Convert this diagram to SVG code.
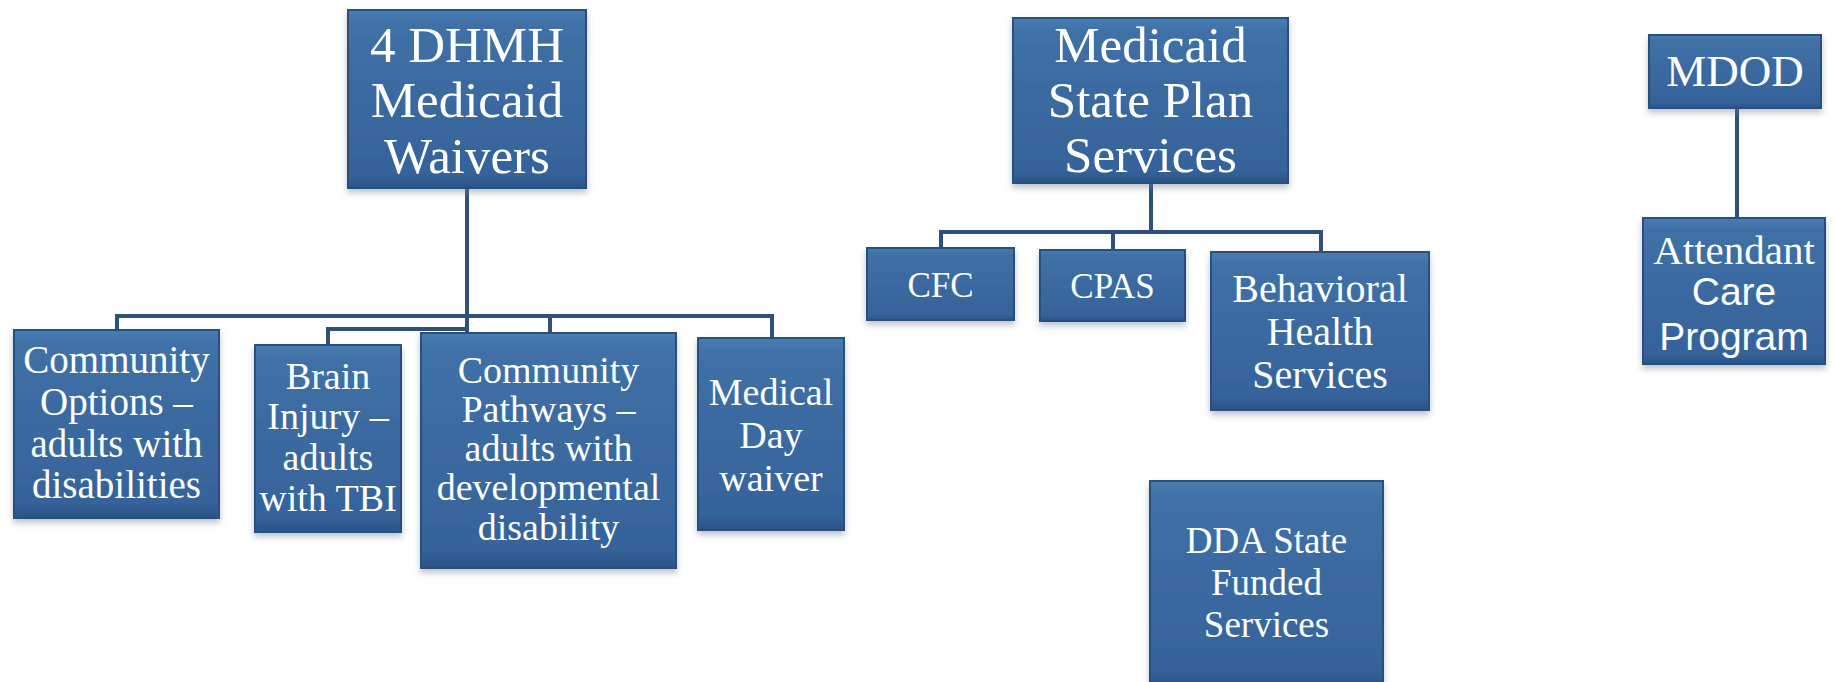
<svg xmlns="http://www.w3.org/2000/svg" width="1835" height="682" viewBox="0 0 1835 682">
<defs>
<linearGradient id="g" x1="0" y1="0" x2="0" y2="1">
<stop offset="0" stop-color="#4a7cb2"/>
<stop offset="0.08" stop-color="#3f70a6"/>
<stop offset="0.92" stop-color="#35639a"/>
<stop offset="1" stop-color="#2b5486"/>
</linearGradient>
<filter id="sh" x="-10%" y="-10%" width="120%" height="130%">
<feDropShadow dx="0" dy="4" stdDeviation="3" flood-color="#6b7a8c" flood-opacity="0.45"/>
</filter>
<style>
.box{fill:url(#g);stroke:#2a4f7d;stroke-width:2;filter:url(#sh)}
.t{fill:#ffffff;font-family:"Liberation Serif","Times New Roman",serif;text-anchor:middle}
.s{fill:#ffffff;font-family:"Liberation Sans",Arial,sans-serif;text-anchor:middle}
.c{fill:none;stroke:#2f5079;stroke-width:4;stroke-linejoin:miter}
</style>
</defs>
<rect width="1835" height="682" fill="#ffffff"/>
<g id="connectors">
<path class="c" d="M467 188 V333"/>
<path class="c" d="M117 330 V316 H772 V338"/>
<path class="c" d="M550 316 V333"/>
<path class="c" d="M328 345 V329 H467"/>
<path class="c" d="M1151 183 V232"/>
<path class="c" d="M941 248 V232 H1321 V252"/>
<path class="c" d="M1113 232 V250"/>
<path class="c" d="M1737 108 V218"/>
</g>
<g id="n-dhmh">
<rect class="box" x="348" y="10" width="238" height="178"/>
<text class="t" font-size="51"><tspan x="467" y="62">4 DHMH</tspan><tspan x="467" y="117">Medicaid</tspan><tspan x="467" y="173">Waivers</tspan></text>
</g>
<g id="n-community-options">
<rect class="box" x="14" y="330" width="205" height="188"/>
<text class="t" font-size="39"><tspan x="116.5" y="373">Community</tspan><tspan x="116.5" y="415">Options –</tspan><tspan x="116.5" y="457">adults with</tspan><tspan x="116.5" y="498">disabilities</tspan></text>
</g>
<g id="n-brain-injury">
<rect class="box" x="255" y="345" width="146" height="187"/>
<text class="t" font-size="38"><tspan x="328" y="389">Brain</tspan><tspan x="328" y="429">Injury –</tspan><tspan x="328" y="470">adults</tspan><tspan x="328" y="511">with TBI</tspan></text>
</g>
<g id="n-community-pathways">
<rect class="box" x="421" y="333" width="255" height="235"/>
<text class="t" font-size="38"><tspan x="548.5" y="383">Community</tspan><tspan x="548.5" y="422">Pathways –</tspan><tspan x="548.5" y="461">adults with</tspan><tspan x="548.5" y="500">developmental</tspan><tspan x="548.5" y="540">disability</tspan></text>
</g>
<g id="n-medical-day">
<rect class="box" x="698" y="338" width="146" height="192"/>
<text class="t" font-size="38"><tspan x="771" y="405">Medical</tspan><tspan x="771" y="448">Day</tspan><tspan x="771" y="491">waiver</tspan></text>
</g>
<g id="n-state-plan">
<rect class="box" x="1013" y="18" width="275" height="165"/>
<text class="t" font-size="51"><tspan x="1150.5" y="62">Medicaid</tspan><tspan x="1150.5" y="117">State Plan</tspan><tspan x="1150.5" y="172">Services</tspan></text>
</g>
<g id="n-cfc">
<rect class="box" x="867" y="248" width="147" height="72"/>
<text class="t" font-size="35" x="940.5" y="297">CFC</text>
</g>
<g id="n-cpas">
<rect class="box" x="1040" y="250" width="145" height="71"/>
<text class="t" font-size="35" x="1112.5" y="298">CPAS</text>
</g>
<g id="n-behavioral">
<rect class="box" x="1211" y="252" width="218" height="158"/>
<text class="t" font-size="40"><tspan x="1320" y="302">Behavioral</tspan><tspan x="1320" y="345">Health</tspan><tspan x="1320" y="388">Services</tspan></text>
</g>
<g id="n-dda">
<rect class="box" x="1150" y="481" width="233" height="205"/>
<text class="t" font-size="37"><tspan x="1266.5" y="553">DDA State</tspan><tspan x="1266.5" y="595">Funded</tspan><tspan x="1266.5" y="637">Services</tspan></text>
</g>
<g id="n-mdod">
<rect class="box" x="1649" y="35" width="172" height="73"/>
<text class="t" font-size="45" x="1735" y="86">MDOD</text>
</g>
<g id="n-attendant">
<rect class="box" x="1643" y="218" width="182" height="146"/>
<text class="t" font-size="41" x="1734" y="264">Attendant</text>
<text class="s" font-size="39"><tspan x="1734" y="305">Care</tspan><tspan x="1734" y="350">Program</tspan></text>
</g>
</svg>
